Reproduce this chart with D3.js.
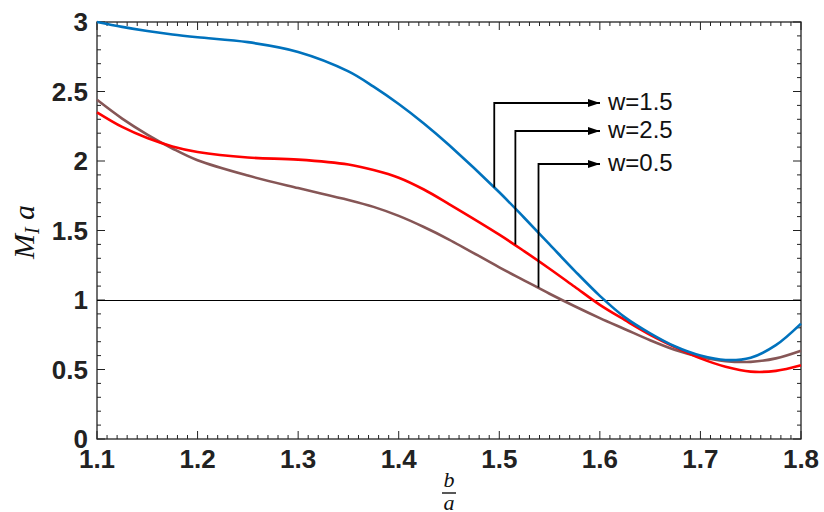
<!DOCTYPE html>
<html>
<head>
<meta charset="utf-8">
<script src="https://cdn.jsdelivr.net/npm/d3@7"></script>
<style>
  body { margin: 0; background: #fff; }
  svg { display: block; }
</style>
</head>
<body>
<div id="chart"></div>
<script>
// values
let ratio = [1.10, 1.125, 1.15, 1.175, 1.20, 1.25, 1.30, 1.35, 1.375, 1.40, 1.425, 1.45, 1.50, 1.525, 1.55, 1.575, 1.60, 1.625, 1.65, 1.675, 1.70, 1.725, 1.75, 1.775, 1.80]
let w15 = [3.00, 2.965, 2.935, 2.91, 2.89, 2.855, 2.785, 2.645, 2.535, 2.41, 2.27, 2.115, 1.775, 1.59, 1.40, 1.21, 1.03, 0.875, 0.76, 0.665, 0.6, 0.568, 0.585, 0.675, 0.83]
let w25 = [2.35, 2.245, 2.165, 2.105, 2.065, 2.025, 2.01, 1.975, 1.935, 1.88, 1.795, 1.69, 1.47, 1.35, 1.225, 1.095, 0.965, 0.855, 0.75, 0.66, 0.58, 0.52, 0.485, 0.49, 0.53]
let w05 = [2.44, 2.305, 2.19, 2.09, 2.005, 1.895, 1.805, 1.72, 1.67, 1.605, 1.525, 1.435, 1.235, 1.14, 1.045, 0.955, 0.87, 0.79, 0.71, 0.64, 0.59, 0.56, 0.555, 0.58, 0.635]

let xTicks = [1.1, 1.2, 1.3, 1.4, 1.5, 1.6, 1.7, 1.8]
let yTicks = [0, 0.5, 1, 1.5, 2, 2.5, 3]
let legendNames = ["w=1.5", "w=2.5", "w=0.5"]
// where each arrow leaves its curve (b/a, M_I a)
let arrowBase = [[1.495, 1.81], [1.516, 1.40], [1.539, 1.09]]

let width = 824
let height = 512
let margin = {top: 22, right: 23, bottom: 73, left: 97}

let svg = d3.select("#chart")
    .append("svg")
    .attr("width", width)
    .attr("height", height)

let x = d3.scaleLinear().domain([1.1, 1.8]).range([margin.left, width - margin.right])
let y = d3.scaleLinear().domain([0, 3]).range([height - margin.bottom, margin.top])

let axisColor = "#222"
let x0 = x.range()[0], x1 = x.range()[1]
let y0 = y.range()[0], y1 = y.range()[1]

// minor + major ticks, all pointing inwards, on the four sides
let xMinor = d3.range(110, 181).map(d => d / 100)
let yMinor = d3.range(0, 31).map(d => d / 10)

let ticks = svg.append("g").attr("stroke", axisColor).attr("stroke-width", 1)
xMinor.forEach(v => {
    let major = Math.abs(v * 10 - Math.round(v * 10)) < 1e-6
    let len = major ? 8 : 4
    ticks.append("line").attr("x1", x(v)).attr("x2", x(v)).attr("y1", y0).attr("y2", y0 - len)
    ticks.append("line").attr("x1", x(v)).attr("x2", x(v)).attr("y1", y1).attr("y2", y1 + len)
})
yMinor.forEach(v => {
    let major = Math.abs(v * 2 - Math.round(v * 2)) < 1e-6
    let len = major ? 8 : 4
    ticks.append("line").attr("x1", x0).attr("x2", x0 + len).attr("y1", y(v)).attr("y2", y(v))
    ticks.append("line").attr("x1", x1).attr("x2", x1 - len).attr("y1", y(v)).attr("y2", y(v))
})

svg.append("rect")
    .attr("x", x0).attr("y", y1)
    .attr("width", x1 - x0).attr("height", y0 - y1)
    .attr("fill", "none")
    .attr("stroke", axisColor)
    .attr("stroke-width", 1.3)

// tick labels
svg.append("g")
    .selectAll("text")
    .data(xTicks)
    .enter()
    .append("text")
    .attr("x", d => x(d))
    .attr("y", y0 + 29)
    .attr("text-anchor", "middle")
    .style("font-family", "'Liberation Sans', Arial, sans-serif")
    .style("font-weight", "bold")
    .style("font-size", "26px")
    .attr("fill", "#222")
    .text(d => d.toFixed(1))

svg.append("g")
    .selectAll("text")
    .data(yTicks)
    .enter()
    .append("text")
    .attr("x", x0 - 9)
    .attr("y", d => y(d) + 9)
    .attr("text-anchor", "end")
    .style("font-family", "'Liberation Sans', Arial, sans-serif")
    .style("font-weight", "bold")
    .style("font-size", "26px")
    .attr("fill", "#222")
    .text(d => d === 0 ? "0" : (d % 1 === 0 ? d.toFixed(0) : d.toFixed(1)))

// reference line at 1
svg.append("line")
    .attr("x1", x0).attr("x2", x1)
    .attr("y1", Math.round(y(1)) + 0.5).attr("y2", Math.round(y(1)) + 0.5)
    .attr("stroke", "#000")
    .attr("stroke-width", 1)

// curves
let series = [
    {vals: w05, color: "#865656"},
    {vals: w25, color: "#ff0000"},
    {vals: w15, color: "#0072bd"}
]
let line = d3.line()
    .x(d => x(d[0]))
    .y(d => y(d[1]))
    .curve(d3.curveCatmullRom.alpha(0.5))

svg.append("g")
    .selectAll("path")
    .data(series)
    .enter()
    .append("path")
    .attr("d", s => line(ratio.map((r, i) => [r, s.vals[i]])))
    .attr("fill", "none")
    .attr("stroke", s => s.color)
    .attr("stroke-width", 2.6)

// arrows with labels
svg.append("defs").append("marker")
    .attr("id", "head")
    .attr("viewBox", "0 0 12 8")
    .attr("refX", 12).attr("refY", 4)
    .attr("markerWidth", 12).attr("markerHeight", 8)
    .attr("markerUnits", "userSpaceOnUse")
    .attr("orient", "auto")
    .append("path")
    .attr("d", "M0,0 L12,4 L0,8 Z")
    .attr("fill", "#000")

let armY = [103, 131, 164]
let tipX = 600
let labels = svg.append("g")
arrowBase.forEach((b, i) => {
    let bx = x(b[0]), by = y(b[1])
    labels.append("path")
        .attr("d", `M${bx},${by} L${bx},${armY[i]} L${tipX},${armY[i]}`)
        .attr("fill", "none")
        .attr("stroke", "#000")
        .attr("stroke-width", 1.8)
        .attr("marker-end", "url(#head)")
    labels.append("text")
        .attr("x", 608)
        .attr("y", armY[i] + 7)
        .style("font-family", "'Liberation Sans', Arial, sans-serif")
        .style("font-size", "24px")
        .attr("fill", "#111")
        .text(legendNames[i])
})

// axis titles
let serif = "'Liberation Serif', 'Times New Roman', serif"
let yTitle = svg.append("text")
    .attr("transform", `translate(34, 232) rotate(-90)`)
    .attr("text-anchor", "middle")
    .style("font-family", serif)
    .style("font-style", "italic")
    .style("font-size", "30px")
    .attr("fill", "#111")
yTitle.append("tspan").text("M")
yTitle.append("tspan").attr("dy", 5).style("font-size", "20px").text("I")
yTitle.append("tspan").attr("dy", -5).text(" a")

let fx = 449
svg.append("text")
    .attr("x", fx).attr("y", 487)
    .attr("text-anchor", "middle")
    .style("font-family", serif)
    .style("font-style", "italic")
    .style("font-size", "22px")
    .attr("fill", "#111")
    .text("b")
svg.append("line")
    .attr("x1", fx - 7).attr("x2", fx + 7)
    .attr("y1", 493).attr("y2", 493)
    .attr("stroke", "#111")
    .attr("stroke-width", 1.4)
svg.append("text")
    .attr("x", fx).attr("y", 510)
    .attr("text-anchor", "middle")
    .style("font-family", serif)
    .style("font-style", "italic")
    .style("font-size", "22px")
    .attr("fill", "#111")
    .text("a")
</script>
</body>
</html>
